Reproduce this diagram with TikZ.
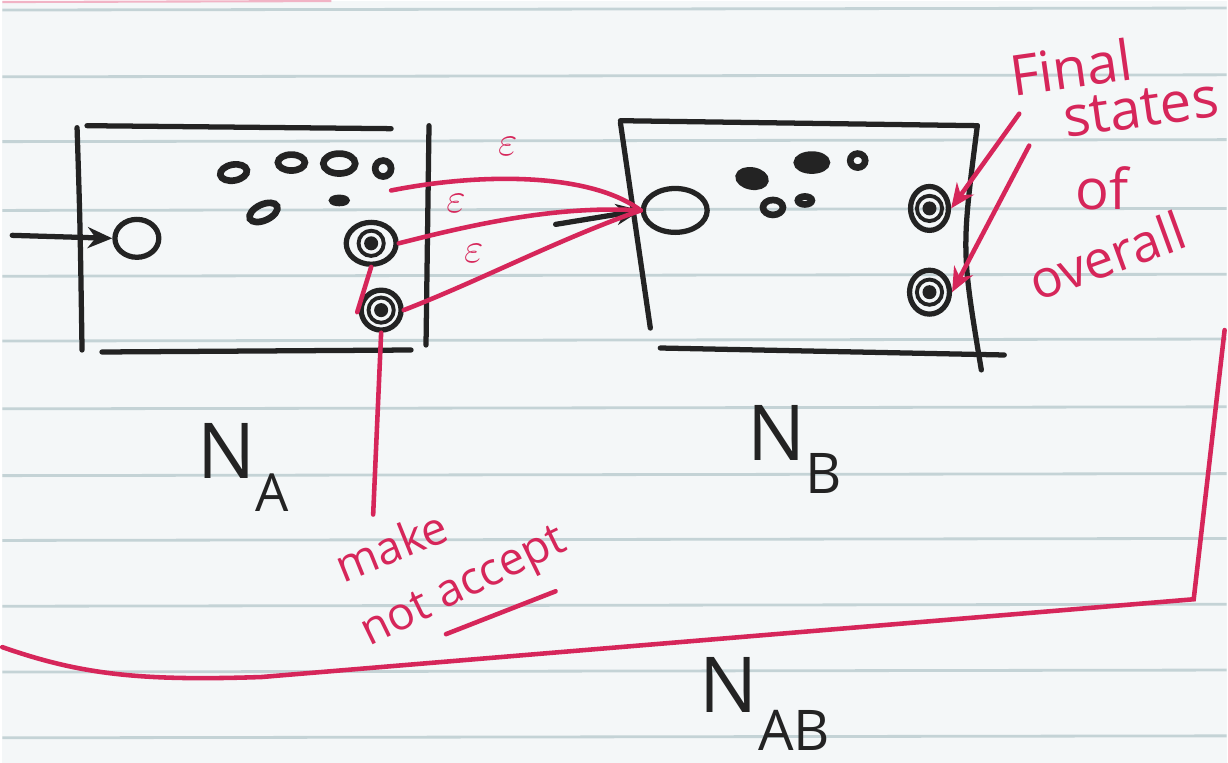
\documentclass[tikz,border=0pt]{standalone}
\usepackage{fontspec}
\setmainfont{Open Sans}
\usepackage{tikz}
\usetikzlibrary{
  arrows.meta,
  positioning,
  shapes.geometric
}
\definecolor{inkred}{HTML}{D6265A}
\definecolor{inkblk}{HTML}{232323}
\definecolor{paper}{HTML}{F4F7F8}
\definecolor{rulecol}{HTML}{C4D3D6}

\begin{document}
\begin{tikzpicture}[x=0.01cm, y=-0.01cm,
  pen/.style={draw=inkblk, line width=1.5pt, line cap=round},
  redpen/.style={draw=inkred, line width=1.3pt, line cap=round},
  state/.style={ellipse, draw=inkblk, line width=1.5pt, inner sep=0pt},
  dotst/.style={ellipse, draw=inkblk, line width=1.9pt, inner sep=0pt,
                minimum width=0.27cm, minimum height=0.16cm},
  accst/.style={state, minimum width=0.42cm, minimum height=0.42cm,
                path picture={
                  \draw[inkblk, line width=1.1pt] (path picture bounding box.center) circle (3.6pt);
                  \fill[inkblk] (path picture bounding box.center) circle (2pt);}},
  arrow/.style={-{Stealth[length=7pt, width=6pt]}},
  eps/.style={text=inkred, font=\fontsize{13}{13}\selectfont, inner sep=1pt},
  lbl/.style={text=inkred, font=\fontsize{16}{17}\selectfont, inner sep=0pt},
  smlbl/.style={lbl, font=\fontsize{13}{14}\selectfont},
  nlbl/.style={text=inkblk, font=\fontsize{22}{22}\selectfont, inner sep=1pt},
]
  % paper
  \fill[paper] (0,0) rectangle (1228,764);
  \foreach \ry in {9,76,141,210,276,341,409,476,541,607,673,739}
    \draw[rulecol, line width=0.8pt] (0,\ry) -- (1228,\ry-2);
  \draw[inkred!35, line width=0.6pt] (0,1) -- (330,0);

  % N_A
  \draw[pen] (75,127) .. controls (78,220) .. (80,350);
  \draw[pen] (85,125) -- (390,128);
  \draw[pen] (428,125) -- (425,345);
  \draw[pen] (100,352) -- (410,350);
  \node[state, minimum width=0.44cm, minimum height=0.38cm] (As) at (135,238) {};
  \coordinate (ain) at (10,235);
  \draw[pen, arrow] (ain) -- (As.west);
  \node[dotst, rotate=10] (a1) at (232,172) {};
  \node[dotst] (a2) at (290,162) {};
  \node[dotst, minimum width=0.32cm, minimum height=0.2cm] (a3) at (338,163) {};
  \node[dotst, minimum width=0.16cm, minimum height=0.16cm] (a4) at (382,168) {};
  \node[dotst, rotate=25, minimum width=0.3cm] (a5) at (262,212) {};
  \node[dotst, minimum width=0.14cm, minimum height=0.05cm] (a6) at (338,200) {};
  \node[accst, minimum width=0.5cm, minimum height=0.42cm] (Aa1) at (370,243) {};
  \node[accst, minimum width=0.4cm, minimum height=0.4cm] (Aa2) at (380,310) {};
  \node[nlbl] (NA) at (242,468) {N\raisebox{-0.8ex}{\fontsize{15}{15}\selectfont A}};

  % N_B
  \draw[pen] (620,122) -- (650,328);
  \draw[pen] (620,120) -- (978,125);
  \draw[pen] (978,125) .. controls (962,250) .. (982,370);
  \draw[pen] (660,348) -- (1005,355);
  \node[state, minimum width=0.64cm, minimum height=0.44cm] (Bs) at (675,210) {};
  \coordinate (bin) at (555,224);
  \draw[pen, arrow] (bin) -- (Bs.west);
  \node[dotst, fill=inkblk, rotate=-10] (b1) at (752,178) {};
  \node[dotst, fill=inkblk, minimum width=0.3cm] (b2) at (812,162) {};
  \node[dotst, minimum width=0.15cm, minimum height=0.14cm] (b3) at (858,160) {};
  \node[dotst, minimum width=0.2cm, minimum height=0.15cm] (b4) at (773,207) {};
  \node[dotst, minimum width=0.14cm, minimum height=0.08cm] (b5) at (805,200) {};
  \node[accst, minimum width=0.38cm, minimum height=0.44cm] (Ba1) at (930,208) {};
  \node[accst, minimum width=0.4cm, minimum height=0.44cm] (Ba2) at (930,292) {};
  \node[nlbl] (NB) at (795,450) {N\raisebox{-0.8ex}{\fontsize{16}{16}\selectfont B}};

  % epsilon moves
  \coordinate (e1) at (390,190);
  \draw[redpen] (e1) .. controls (480,172) and (590,172) .. (Bs.west);
  \draw[redpen] (Aa1.east) .. controls (480,222) and (560,205) .. (Bs.west);
  \draw[redpen] (Aa2.east) .. controls (480,280) and (560,238) .. (Bs.west);
  \node[eps] (ep1) at (507,146) {$\varepsilon$};
  \node[eps] (ep2) at (455,203) {$\varepsilon$};
  \node[eps] (ep3) at (473,253) {$\varepsilon$};

  % notes
  \node[lbl, rotate=8] (fin) at (1072,66) {Final};
  \node[lbl, rotate=8] (sts) at (1142,108) {states};
  \node[lbl] (of) at (1103,188) {of};
  \node[lbl, rotate=20, font=\fontsize{15}{15}\selectfont] (ovr) at (1108,255) {overall};
  \coordinate (f1) at (1020,113);
  \coordinate (f2) at (1030,145);
  \draw[redpen, arrow] (f1) -- (Ba1.east);
  \draw[redpen, arrow] (f2) -- (Ba2.east);

  \node[smlbl, rotate=22] (mk) at (390,546) {make};
  \node[smlbl, rotate=26] (na) at (464,590) {not accept};
  \coordinate (ul1) at (445,635);
  \coordinate (ul2) at (555,592);
  \draw[redpen] (ul1) -- (ul2);
  \coordinate (mtop) at (372,515);
  \draw[redpen] (mtop) -- (Aa2.south);
  \coordinate (mtip) at (356,312);
  \draw[redpen] (mtip) -- (Aa1.south);

  % N_AB
  \draw[redpen] (0,648) .. controls (80,676) and (140,682) .. (260,678)
    -- (1195,600) -- (1226,330);
  \node[nlbl] (NAB) at (765,705) {N\raisebox{-0.9ex}{\fontsize{16}{16}\selectfont AB}};
\end{tikzpicture}
\end{document}
